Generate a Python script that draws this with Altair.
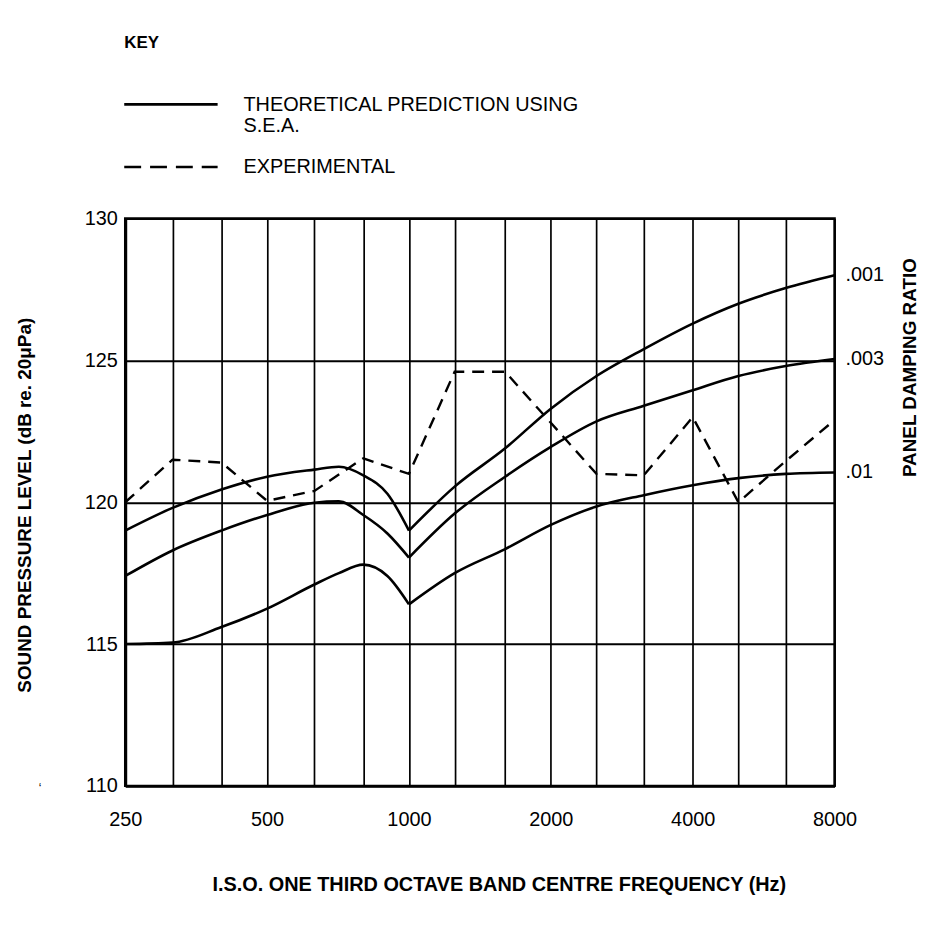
import altair as alt
import pandas as pd

FONT = "Liberation Sans"

# one-third octave band centre frequencies (Hz)
bands = [250, 315, 400, 500, 630, 800, 1000, 1250, 1600, 2000, 2500, 3150, 4000, 5000, 6300, 8000]
octave_labels = [250, 500, 1000, 2000, 4000, 8000]
y_ticks = [110, 115, 120, 125, 130]

# experimental SPL (dB re 20 uPa) at each band
experimental = [120.0, 121.5, 121.4, 120.05, 120.4, 121.55, 121.0, 124.6,
                124.6, 122.8, 121.0, 120.95, 123.0, 120.0, 121.45, 122.9]

# theoretical S.E.A. predictions, split at the 1000 Hz cusp
theo_freq_low = [250, 315, 400, 500, 630, 710, 800, 900, 1000]
theo_freq_high = [1000, 1250, 1600, 2000, 2500, 3150, 4000, 5000, 6300, 8000]

damping_ratios = [".001", ".003", ".01"]
theo_001_low = [119.0, 119.8, 120.45, 120.9, 121.15, 121.25, 120.95, 120.3, 119.0]
theo_001_high = [119.0, 120.55, 121.9, 123.3, 124.45, 125.4, 126.3, 127.0, 127.55, 128.0]
theo_003_low = [117.4, 118.3, 119.0, 119.55, 119.98, 120.03, 119.55, 118.9, 118.05]
theo_003_high = [118.05, 119.6, 120.9, 121.95, 122.85, 123.4, 123.95, 124.45, 124.8, 125.05]
theo_01_low = [115.0, 115.05, 115.6, 116.25, 117.1, 117.5, 117.8, 117.4, 116.4]
theo_01_high = [116.4, 117.5, 118.35, 119.2, 119.85, 120.25, 120.6, 120.85, 121.0, 121.05]

legend_texts = ["THEORETICAL PREDICTION USING", "S.E.A.", "EXPERIMENTAL"]

# ---- tables ----
rows = []
for d, lo, hi in zip(damping_ratios,
                     [theo_001_low, theo_003_low, theo_01_low],
                     [theo_001_high, theo_003_high, theo_01_high]):
    for f, v in zip(theo_freq_low, lo):
        rows.append({"freq": f, "spl": v, "seg": d + "-low"})
    for f, v in zip(theo_freq_high, hi):
        rows.append({"freq": f, "spl": v, "seg": d + "-high"})
df_theo = pd.DataFrame(rows)
df_exp = pd.DataFrame({"freq": bands, "spl": experimental})
df_end = pd.DataFrame({
    "freq": [theo_freq_high[-1]] * 3,
    "spl": [theo_001_high[-1], theo_003_high[-1], theo_01_high[-1]],
    "label": damping_ratios,
})

label_test = " || ".join(f"datum.value == {v}" for v in octave_labels)

xscale = alt.Scale(type="log", domain=[bands[0], bands[-1]], nice=False)
yscale = alt.Scale(domain=[y_ticks[0], y_ticks[-1]], nice=False, zero=False)

xaxis = alt.Axis(
    values=bands, format="d",
    labelExpr=f"({label_test}) ? datum.label : ''",
    grid=True, gridColor="black", gridWidth=1.7, gridOpacity=1,
    ticks=False, domainColor="black", domainWidth=3,
    labelFont=FONT, labelFontSize=20, labelColor="black", labelPadding=24,
    labelFlush=False, labelOverlap=False,
    title="I.S.O. ONE THIRD OCTAVE BAND CENTRE FREQUENCY (Hz)",
    titleFont=FONT, titleFontSize=20, titleFontWeight="bold", titleColor="black",
    titleX=376, titleY=99, titleAlign="center", titleBaseline="middle",
)
yaxis = alt.Axis(
    values=y_ticks,
    grid=True, gridColor="black", gridWidth=2, gridOpacity=1,
    ticks=False, domainColor="black", domainWidth=3,
    labelFont=FONT, labelFontSize=20, labelColor="black", labelPadding=8,
    title="SOUND PRESSURE LEVEL (dB re. 20\u03bcPa)",
    titleFont=FONT, titleFontSize=19, titleFontWeight="bold", titleColor="black",
    titleX=-101, titleY=288, titleAngle=270, titleAlign="center", titleBaseline="middle",
)

X = alt.X("freq:Q", scale=xscale, axis=xaxis)
Y = alt.Y("spl:Q", scale=yscale, axis=yaxis)

theo = alt.Chart(df_theo).mark_line(
    color="black", strokeWidth=2.6, interpolate="monotone"
).encode(x=X, y=Y, detail="seg:N", order="freq:Q")

exp = alt.Chart(df_exp).mark_line(
    color="black", strokeWidth=2.4, strokeDash=[12, 8]
).encode(x=X, y=Y, order="freq:Q")

ends = alt.Chart(df_end).mark_text(
    align="left", baseline="middle", dx=11, font=FONT, fontSize=20, color="black"
).encode(x=X, y=Y, text="label:N")


def note(text, x, y, size=20, bold=False, angle=0, align="left"):
    return alt.Chart(pd.DataFrame({"t": [text]})).mark_text(
        align=align, baseline="middle", font=FONT, fontSize=size,
        fontWeight="bold" if bold else "normal", angle=angle, color="black"
    ).encode(x=alt.value(x), y=alt.value(y), text="t:N")


def key_line(y, dash=None):
    kw = {"color": "black", "strokeWidth": 2.6}
    if dash:
        kw["strokeDash"] = dash
    return alt.Chart(pd.DataFrame({"t": [0]})).mark_rule(**kw).encode(
        x=alt.value(-1), x2=alt.value(93), y=alt.value(y)
    )


layers = [
    theo, exp, ends,
    note("KEY", -1, -177, size=17, bold=True),
    key_line(-115),
    note(legend_texts[0], 119, -114),
    note(legend_texts[1], 119, -93),
    key_line(-52, dash=[17, 9]),
    note(legend_texts[2], 119, -52),
    note("PANEL DAMPING RATIO", 790, 150, size=19, bold=True, angle=270, align="center"),
    note("\u2018", -87, 573, size=12),
]

chart = alt.layer(*layers).properties(
    width=714, height=571,
    autosize=alt.AutoSizeParams(type="none"),
    padding={"left": 118, "top": 209, "right": 88, "bottom": 130},
    background="white",
).configure_view(stroke="black", strokeWidth=2.5)

chart.save("out.html", embed_options={"renderer": "svg", "actions": False})
